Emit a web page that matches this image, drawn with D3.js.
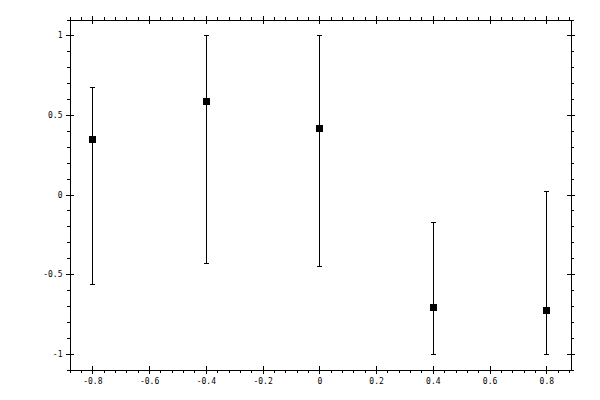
<!DOCTYPE html>
<html>
<head>
<meta charset="utf-8">
<script src="https://cdn.jsdelivr.net/npm/d3@7"></script>
<style>
  body { margin: 0; background: #fff; }
  text { font-family: "DejaVu Sans Mono", monospace; font-size: 8px; }
</style>
</head>
<body>
<div id="container"></div>
<script>
const width = 600;
const height = 400;
const margin = { top: 19.5, bottom: 30.5, left: 69.5, right: 29.5 };

// data
const xValues = [-0.8, -0.4, 0, 0.4, 0.8];
const yValues = [0.352, 0.585, 0.415, -0.704, -0.723];
const yLower = [-0.564, -0.428, -0.451, -1.0, -1.0];
const yUpper = [0.675, 1.0, 1.0, -0.176, 0.019];

const xTicks = [-0.8, -0.6, -0.4, -0.2, 0, 0.2, 0.4, 0.6, 0.8];
const xTickLabels = ["-0.8", "-0.6", "-0.4", "-0.2", "0", "0.2", "0.4", "0.6", "0.8"];
const yTicks = [-1, -0.5, 0, 0.5, 1];
const yTickLabels = ["-1", "-0.5", "0", "0.5", "1"];
const xDomain = [-0.8804, 0.8853];
const yDomain = [-1.1, 1.1];

const xMinor = d3.range(-22, 23).map(i => i * 0.04);
const yMinor = d3.range(-11, 12).map(i => i * 0.1);

const svg = d3.select("#container")
    .append('svg')
    .attr('width', width)
    .attr('height', height)
    .attr('viewBox', [0, 0, width, height]);

const x = d3.scaleLinear()
    .domain(xDomain)
    .range([margin.left, width - margin.right]);

const y = d3.scaleLinear()
    .domain(yDomain)
    .range([height - margin.bottom, margin.top]);

const yBottom = height - margin.bottom;
const yTop = margin.top;
const xLeft = margin.left;
const xRight = width - margin.right;

function styleAxis(g) {
    g.selectAll('path, line')
        .attr('stroke', '#000')
        .attr('shape-rendering', 'crispEdges');
    g.selectAll('text').attr('fill', '#000');
    g.attr('font-family', null).attr('font-size', null);
}

const noLabel = () => "";

// each side: major ticks out (with labels on bottom/left), major ticks in, minor ticks out
function addSide(axisFn, transform, labels, padding) {
    svg.append('g')
        .attr('transform', transform)
        .call(axisFn(labels.ticks).tickSizeInner(4).tickSizeOuter(0)
            .tickPadding(padding).tickFormat(labels.text ? (d, i) => labels.text[i] : noLabel))
        .call(styleAxis);
    svg.append('g')
        .attr('transform', transform)
        .call(axisFn(labels.ticks).tickSizeInner(-4).tickSizeOuter(0).tickFormat(noLabel))
        .call(styleAxis);
    svg.append('g')
        .attr('transform', transform)
        .call(axisFn(labels.minor).tickSizeInner(3).tickSizeOuter(0).tickFormat(noLabel))
        .call(styleAxis);
}

addSide(v => d3.axisBottom(x).tickValues(v), `translate(0,${yBottom})`,
    { ticks: xTicks, minor: xMinor, text: xTickLabels }, 5);
addSide(v => d3.axisTop(x).tickValues(v), `translate(0,${yTop})`,
    { ticks: xTicks, minor: xMinor }, 3);
addSide(v => d3.axisLeft(y).tickValues(v), `translate(${xLeft},0)`,
    { ticks: yTicks, minor: yMinor, text: yTickLabels }, 3);
addSide(v => d3.axisRight(y).tickValues(v), `translate(${xRight},0)`,
    { ticks: yTicks, minor: yMinor }, 3);

// error bars
const points = xValues.map((d, i) => ({ x: d, y: yValues[i], lo: yLower[i], hi: yUpper[i] }));
const capW = 2.5;
const px = d => Math.round(x(d.x)) + 0.5;

const bars = svg.append('g')
    .attr('stroke', '#000')
    .attr('stroke-width', 1)
    .attr('shape-rendering', 'crispEdges');

bars.selectAll('line.bar')
    .data(points)
    .join('line')
    .attr('class', 'bar')
    .attr('x1', px)
    .attr('x2', px)
    .attr('y1', d => y(d.lo))
    .attr('y2', d => y(d.hi));

bars.selectAll('line.caplo')
    .data(points)
    .join('line')
    .attr('class', 'caplo')
    .attr('x1', d => px(d) - capW)
    .attr('x2', d => px(d) + capW)
    .attr('y1', d => Math.round(y(d.lo)) + 0.5)
    .attr('y2', d => Math.round(y(d.lo)) + 0.5);

bars.selectAll('line.caphi')
    .data(points)
    .join('line')
    .attr('class', 'caphi')
    .attr('x1', d => px(d) - capW)
    .attr('x2', d => px(d) + capW)
    .attr('y1', d => Math.round(y(d.hi)) + 0.5)
    .attr('y2', d => Math.round(y(d.hi)) + 0.5);

// square markers
svg.append('g')
    .selectAll('rect')
    .data(points)
    .join('rect')
    .attr('x', d => Math.round(x(d.x)) - 3)
    .attr('y', d => Math.round(y(d.y)) - 3)
    .attr('width', 7)
    .attr('height', 7)
    .attr('fill', '#000')
    .attr('shape-rendering', 'crispEdges');
</script>
</body>
</html>
